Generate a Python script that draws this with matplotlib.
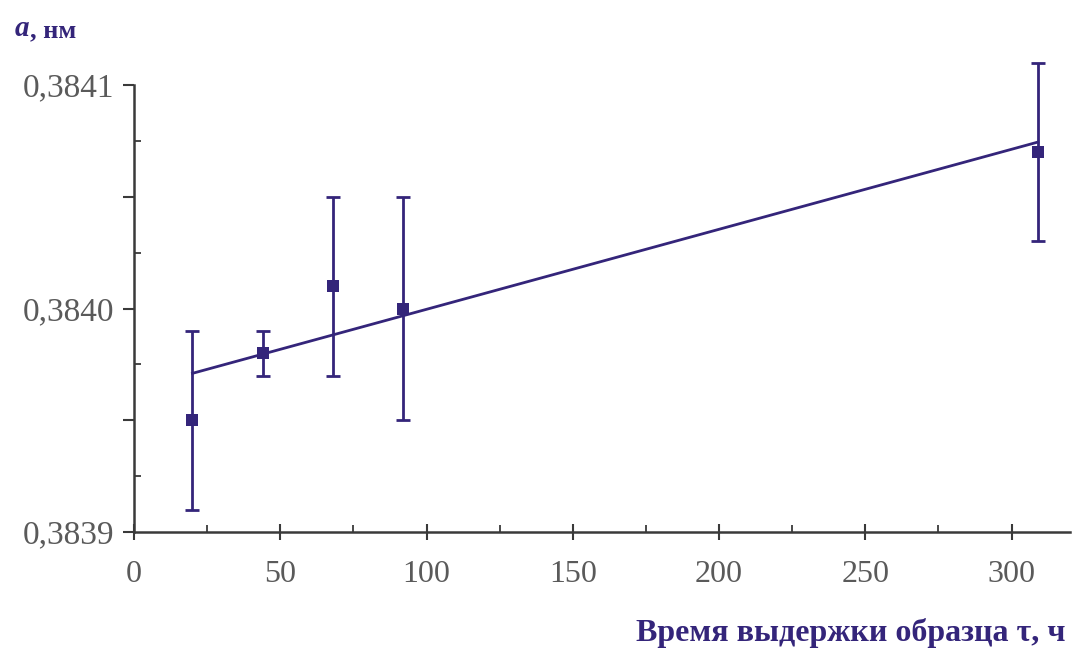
#!/usr/bin/env python3
"""Lattice parameter a versus annealing time with linear fit."""

import matplotlib

matplotlib.use("Agg")
import matplotlib.pyplot as plt
import numpy as np
from matplotlib.ticker import FixedLocator

# hold time, h
tau = [20, 44, 68, 92, 309]
# lattice parameter, nm
a_nm = [0.38395, 0.38398, 0.38401, 0.38400, 0.38407]
# half-width of error bars, nm
a_err = [0.00004, 0.00001, 0.00004, 0.00005, 0.00004]

x_ticks = [0, 50, 100, 150, 200, 250, 300]
x_minor = [25, 75, 125, 175, 225, 275]
y_major = [0.3839, 0.38395, 0.3840, 0.38405, 0.3841]
y_minor = [0.383925, 0.383975, 0.384025, 0.384075]
y_tick_labels = ["0,3839", "", "0,3840", "", "0,3841"]

MARK = "#34257a"
AXIS = "#3a3a3a"
TICK_TEXT = "#5a5a5a"
SERIF = "Liberation Serif"

fig = plt.figure(figsize=(10.78, 6.55), dpi=100)
ax = fig.add_axes([0.1243, 0.1878, 0.8683, 0.6824])

slope, intercept = np.polyfit(tau, a_nm, 1)
fit_x = np.array([tau[0], tau[-1]])
ax.plot(fit_x, slope * fit_x + intercept, color=MARK, lw=2.0, zorder=2)

eb = ax.errorbar(
    tau, a_nm, yerr=a_err, fmt="none", ecolor=MARK,
    elinewidth=2.0, capsize=5, capthick=2.0, zorder=3,
)
for artist in eb.get_children():
    artist.set_clip_on(False)
ax.plot(tau, a_nm, "s", color=MARK, ms=8, mew=0, zorder=4, clip_on=False)

ax.set_xlim(0, 320)
ax.set_ylim(0.3839, 0.3841)

ax.xaxis.set_major_locator(FixedLocator(x_ticks))
ax.xaxis.set_minor_locator(FixedLocator(x_minor))
ax.yaxis.set_major_locator(FixedLocator(y_major))
ax.yaxis.set_minor_locator(FixedLocator(y_minor))
ax.set_xticklabels([str(v) for v in x_ticks])
ax.set_yticklabels(y_tick_labels)

ax.tick_params(axis="x", which="major", direction="inout", length=12, width=1.5,
               color=AXIS, pad=14, labelsize=23, labelcolor=TICK_TEXT)
ax.tick_params(axis="x", which="minor", direction="in", length=5, width=1.3, color=AXIS)
ax.tick_params(axis="y", which="major", direction="out", length=8, width=1.5,
               color=AXIS, pad=6, labelsize=24, labelcolor=TICK_TEXT)
ax.tick_params(axis="y", which="minor", direction="in", length=5, width=1.3, color=AXIS)
for label in ax.get_xticklabels() + ax.get_yticklabels():
    label.set_fontfamily(SERIF)

for side in ("top", "right"):
    ax.spines[side].set_visible(False)
for side in ("left", "bottom"):
    ax.spines[side].set_color(AXIS)
    ax.spines[side].set_linewidth(1.8)

# axis captions
a_txt = fig.text(0.014, 0.945, "a", family=SERIF, style="italic", weight="bold",
                 fontsize=21, color=MARK, va="baseline", ha="left")
ax.annotate(", нм", xy=(1, 0), xycoords=a_txt, va="bottom", ha="left",
            family=SERIF, weight="bold", fontsize=19, color=MARK)
fig.text(0.988, 0.022, "Время выдержки образца τ, ч", family=SERIF, weight="bold",
         fontsize=23, color=MARK, ha="right", va="baseline")

fig.savefig("out.png", dpi=100, facecolor="white")
